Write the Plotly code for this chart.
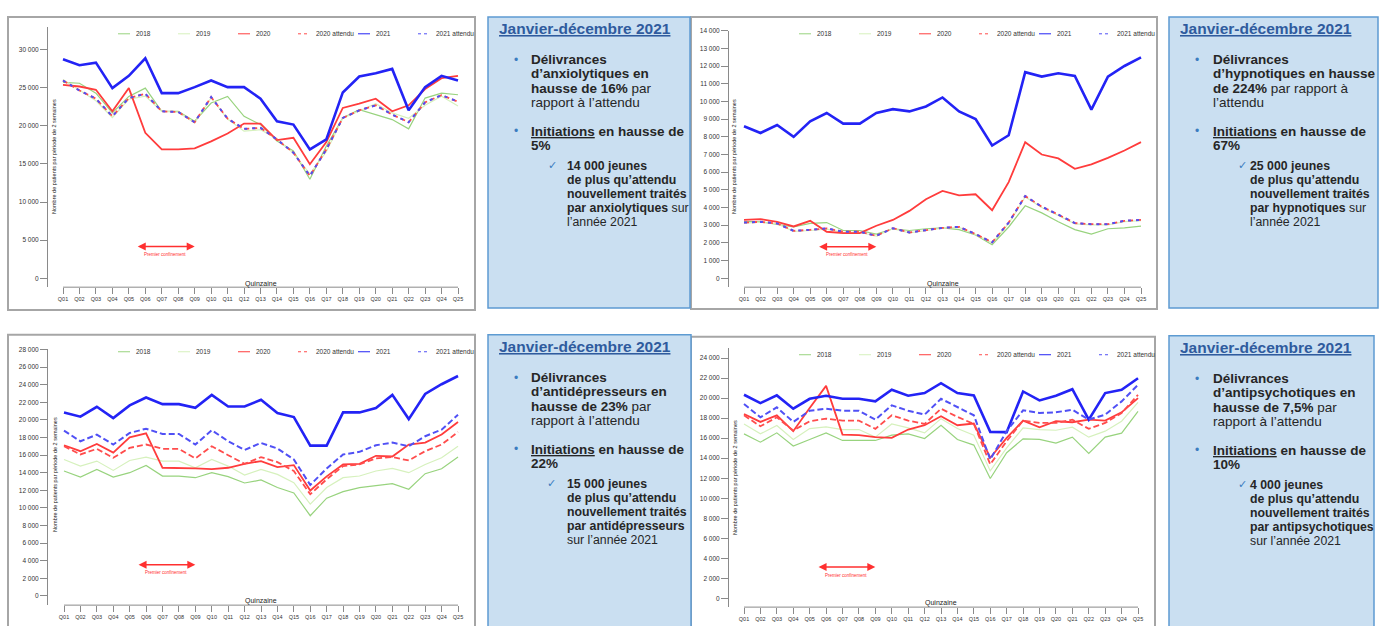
import plotly.graph_objects as go

W, H = 1389, 626

QUINZAINES = ["Q01","Q02","Q03","Q04","Q05","Q06","Q07","Q08","Q09","Q10","Q11","Q12","Q13",
              "Q14","Q15","Q16","Q17","Q18","Q19","Q20","Q21","Q22","Q23","Q24","Q25"]
XNUM = list(range(1, 26))
SERIES_NAMES = ["2018", "2019", "2020", "2020 attendu", "2021", "2021 attendu"]

# ---- Anxiolytiques (top-left)
anx_2018 = [25700,25600,24300,21700,23870,24960,21910,21910,20610,23000,23870,21260,20170,
            18000,16700,13000,17350,21040,22130,21480,20830,19610,23650,24300,24090]
anx_2019 = [26100,24700,23300,21100,23500,23900,21900,21800,20400,23700,20900,19300,19500,
            18300,16400,13700,16600,21000,22000,22900,21700,21000,22700,23900,22600]
anx_2020 = [25390,25170,24740,21910,24960,19090,16910,16910,17040,17960,19000,20300,20300,
            18130,18430,14960,17870,22350,22910,23570,21910,22700,24830,26260,26570]
anx_2020_att = [25960,24650,23570,21260,23650,24220,21910,21830,20480,23780,20960,19610,19740,
                18220,16480,13440,16910,21040,22040,22700,21480,20480,23090,24040,23170]
anx_2021 = [28740,27960,28300,24960,26570,28870,24300,24300,25090,25960,25090,25090,23570,
            20610,20170,16910,18220,24390,26480,26910,27480,22040,25090,26570,25960]
anx_2021_att = [25960,24650,23570,21260,23650,24220,21910,21830,20480,23780,20960,19610,19740,
                18220,16480,13440,16910,21040,22040,22700,21480,20480,23090,24040,23170]

# ---- Hypnotiques (top-right)
hyp_2018 = [3200,3200,3050,2900,3100,3150,2700,2700,2500,2800,2700,2800,2850,
            2750,2450,1900,2900,4100,3700,3200,2750,2500,2800,2850,2950]
hyp_2019 = [3120,3170,3080,2650,2700,2780,2600,2600,2380,2800,2570,2720,2830,
            2880,2480,2000,3100,4600,4000,3550,3080,3020,3020,3200,3260]
hyp_2020 = [3300,3340,3190,2930,3250,2630,2550,2550,2970,3300,3810,4470,4940,
            4690,4750,3850,5440,7700,7000,6780,6190,6440,6810,7230,7700]
hyp_2020_att = [3150,3190,3100,2680,2740,2820,2630,2630,2400,2830,2590,2740,2850,
                2910,2500,2030,3150,4650,4050,3600,3120,3060,3060,3250,3300]
hyp_2021 = [8600,8220,8670,8000,8880,9350,8750,8750,9350,9570,9440,9720,10230,
            9440,9010,7510,8090,11660,11410,11600,11450,9540,11410,12010,12500]
hyp_2021_att = [3150,3190,3100,2680,2740,2820,2630,2630,2400,2830,2590,2740,2850,
                2910,2500,2030,3150,4650,4050,3600,3120,3060,3060,3250,3300]

# ---- Antidepresseurs (bottom-left)
adp_2018 = [14190,13510,14370,13510,14000,14830,13620,13620,13430,14000,13550,12830,13170,
            12310,11700,9110,11100,11850,12310,12570,12760,12120,13890,14450,15770]
adp_2019 = [15500,14750,15320,14260,15390,15770,15320,15320,14560,15500,14750,13730,14370,
            13810,12870,10420,12310,13430,13620,14190,14490,14000,14940,15690,17010]
adp_2020 = [17120,16440,17270,16290,18020,18480,14560,14560,14490,14410,14560,15010,15320,
            14640,14860,11970,13580,14940,15010,15920,15840,17200,17420,18330,19760]
adp_2020_att = [17010,16070,16710,15690,16820,17200,16710,16710,15620,17010,15990,15010,15770,
                15200,14190,11550,13250,14750,14940,15620,15770,15390,16440,17200,18630]
adp_2021 = [20850,20360,21490,20210,21640,22540,21790,21790,21370,22840,21520,21520,22280,
            20770,20320,17080,17080,20850,20850,21340,22840,20090,22950,24050,24990]
adp_2021_att = [18780,17570,18330,17200,18510,19000,18400,18400,17200,18820,17570,16590,17380,
                16750,15500,12610,14490,16070,16370,17120,17420,17010,18140,18890,20580]

# ---- Antipsychotiques (bottom-right)
aps_2018 = [16430,15600,16530,15210,15870,16530,15770,15770,15770,16300,16430,15970,17290,
            15870,15310,11970,14550,15930,15870,15500,16100,14480,16100,16500,18680]
aps_2019 = [17420,16430,17260,15870,16960,17120,16860,16860,16100,17420,17030,16530,17950,
            16960,16300,12730,15040,17030,16860,16790,17090,16100,16700,17690,19570]
aps_2020 = [18410,17620,18280,16700,19010,21220,16360,16300,16100,16030,16860,17290,18180,
            17290,17460,14050,16030,17750,17090,17690,17590,17850,17750,18580,20000]
aps_2020_att = [18280,17190,18080,16760,17690,17950,17750,17750,16930,18280,17750,17420,18940,
                18120,17420,13390,15700,17750,17520,17520,17850,16930,17520,18510,20330]
aps_2021 = [20330,19500,20270,18940,19930,20230,19930,19930,19670,20830,20230,20500,21490,
            20500,20270,16630,16600,20660,19770,20230,20890,17850,20500,20830,21980]
aps_2021_att = [19410,18080,19080,17620,18740,18940,18740,18740,17850,19270,18740,18350,19930,
                19080,18280,13890,16700,18780,18510,18580,18840,17850,18350,19670,21320]

# y tick values / labels
TL_TICKS = [0, 5000, 10000, 15000, 20000, 25000, 30000]
TL_LABELS = ["0", "5 000", "10 000", "15 000", "20 000", "25 000", "30 000"]
TR_TICKS = [0,1000,2000,3000,4000,5000,6000,7000,8000,9000,10000,11000,12000,13000,14000]
TR_LABELS = ["0","1 000","2 000","3 000","4 000","5 000","6 000","7 000","8 000","9 000",
             "10 000","11 000","12 000","13 000","14 000"]
BL_TICKS = [0,2000,4000,6000,8000,10000,12000,14000,16000,18000,20000,22000,24000,26000,28000]
BL_LABELS = ["0","2 000","4 000","6 000","8 000","10 000","12 000","14 000","16 000","18 000",
             "20 000","22 000","24 000","26 000","28 000"]
BR_TICKS = [0,2000,4000,6000,8000,10000,12000,14000,16000,18000,20000,22000,24000]
BR_LABELS = ["0","2 000","4 000","6 000","8 000","10 000","12 000","14 000","16 000","18 000",
             "20 000","22 000","24 000"]

# lockdown arrow (in quinzaine units) and its level per panel
CONF_START, CONF_END, CONF_MID = 5.45, 9.0, 7.2
CONF_LEVEL = {"TL": 4170, "TR": 1780, "BL": 3540, "BR": 3140}

BOX_TITLE = "Janvier-décembre 2021"
TL_B1 = ["<b>Délivrances</b>", "<b>d’anxiolytiques en</b>", "<b>hausse de 16%</b> par", "rapport à l’attendu"]
TL_B2 = ["<b><u>Initiations</u> en hausse de</b>", "<b>5%</b>"]
TL_CK = ["<b>14 000 jeunes</b>", "<b>de plus qu’attendu</b>", "<b>nouvellement traités</b>",
         "<b>par anxiolytiques</b> sur", "l’année 2021"]
TR_B1 = ["<b>Délivrances</b>", "<b>d’hypnotiques en hausse</b>", "<b>de 224%</b> par rapport à", "l’attendu"]
TR_B2 = ["<b><u>Initiations</u> en hausse de</b>", "<b>67%</b>"]
TR_CK = ["<b>25 000 jeunes</b>", "<b>de plus qu’attendu</b>", "<b>nouvellement traités</b>",
         "<b>par hypnotiques</b> sur", "l’année 2021"]
BL_B1 = ["<b>Délivrances</b>", "<b>d’antidépresseurs en</b>", "<b>hausse de 23%</b> par", "rapport à l’attendu"]
BL_B2 = ["<b><u>Initiations</u> en hausse de</b>", "<b>22%</b>"]
BL_CK = ["<b>15 000 jeunes</b>", "<b>de plus qu’attendu</b>", "<b>nouvellement traités</b>",
         "<b>par antidépresseurs</b>", "sur l’année 2021"]
BR_B1 = ["<b>Délivrances</b>", "<b>d’antipsychotiques en</b>", "<b>hausse de 7,5%</b> par", "rapport à l’attendu"]
BR_B2 = ["<b><u>Initiations</u> en hausse de</b>", "<b>10%</b>"]
BR_CK = ["<b>4 000 jeunes</b>", "<b>de plus qu’attendu</b>", "<b>nouvellement traités</b>",
         "<b>par antipsychotiques</b>", "sur l’année 2021"]

FONT = "Liberation Sans, Arial, sans-serif"
C2018, C2019 = "#98d37e", "#d6f1bd"
C2020, C2021 = "#ff3c3c", "#2323f5"
C2020A, C2021A = "#ff4c4c", "#5050f5"
AXC = "#8a8a8a"


def px(x):
    return x / W


def py(y):
    return 1 - y / H


panels = [
    dict(key="TL", xa="x", ya="y", data=[anx_2018, anx_2019, anx_2020, anx_2020_att, anx_2021, anx_2021_att],
         xdom=(48, 470), xr=(0.0886, 25.729), ydom=(23, 285), yr=(-1174, 33000),
         ticks=TL_TICKS, labels=TL_LABELS, frame=(8, 13, 475, 308), leg_y=30, quin_y=282,
         ytitle=(54, 154), dashA=("5px,3px", "3px,5px")),
    dict(key="TR", xa="x2", ya="y2", data=[hyp_2018, hyp_2019, hyp_2020, hyp_2020_att, hyp_2021, hyp_2021_att],
         xdom=(729, 1152), xr=(0.093, 25.665), ydom=(27, 285), yr=(-506, 14000),
         ticks=TR_TICKS, labels=TR_LABELS, frame=(691, 13, 1157, 307), leg_y=30, quin_y=282,
         ytitle=(734, 154), dashA=("5px,3px", "3px,5px")),
    dict(key="BL", xa="x3", ya="y3", data=[adp_2018, adp_2019, adp_2020, adp_2020_att, adp_2021, adp_2021_att],
         xdom=(48, 470), xr=(0.0256, 25.73), ydom=(347, 605), yr=(-1050, 28080),
         ticks=BL_TICKS, labels=BL_LABELS, frame=(8, 333, 475, 632), leg_y=350, quin_y=601,
         ytitle=(55, 474), dashA=("6px,3px", "6px,3px")),
    dict(key="BR", xa="x4", ya="y4", data=[aps_2018, aps_2019, aps_2020, aps_2020_att, aps_2021, aps_2021_att],
         xdom=(729, 1150), xr=(0.0865, 25.73), ydom=(346, 607), yr=(-863, 25020),
         ticks=BR_TICKS, labels=BR_LABELS, frame=(691, 335, 1155, 632), leg_y=353, quin_y=603,
         ytitle=(735, 477), dashA=("6px,3px", "6px,3px")),
]

fig = go.Figure()
shapes, annotations = [], []
layout_axes = {}

for p in panels:
    s18, s19, s20, s20a, s21, s21a = p["data"]
    styles = [
        (s18, dict(color=C2018, width=1.2)),
        (s19, dict(color=C2019, width=1.2)),
        (s20, dict(color=C2020, width=1.8)),
        (s20a, dict(color=C2020A, width=1.8, dash=p["dashA"][0])),
        (s21, dict(color=C2021, width=2.6)),
        (s21a, dict(color=C2021A, width=2.0, dash=p["dashA"][1])),
    ]
    for name, (vals, ln) in zip(SERIES_NAMES, styles):
        fig.add_trace(go.Scatter(x=XNUM, y=vals, mode="lines", name=name, line=ln,
                                 xaxis=p["xa"], yaxis=p["ya"], showlegend=False,
                                 hoverinfo="skip"))

    xname = "xaxis" + p["xa"][1:]
    yname = "yaxis" + p["ya"][1:]
    layout_axes[xname] = dict(
        domain=[px(p["xdom"][0]), px(p["xdom"][1])], range=list(p["xr"]), anchor=p["ya"],
        tickvals=XNUM, ticktext=QUINZAINES, ticks="outside", ticklen=6, tickcolor=AXC,
        tickfont=dict(size=5.5, color="#333", family=FONT), showline=False, showgrid=False,
        zeroline=False, fixedrange=True)
    layout_axes[yname] = dict(
        domain=[py(p["ydom"][1]), py(p["ydom"][0])], range=list(p["yr"]), anchor=p["xa"],
        tickvals=p["ticks"], ticktext=p["labels"], ticks="outside", ticklen=7, tickcolor=AXC,
        tickfont=dict(size=6.5, color="#333", family=FONT), showline=True, linecolor=AXC,
        linewidth=1, showgrid=False, zeroline=False, fixedrange=True)

    # x axis line from first to last quinzaine (R style)
    shapes.append(dict(type="line", xref=p["xa"], yref=p["ya"] + " domain", x0=XNUM[0], x1=XNUM[-1],
                       y0=0, y1=0, line=dict(color=AXC, width=1)))
    # panel frame
    fx0, fy0, fx1, fy1 = p["frame"]
    shapes.append(dict(type="rect", xref="paper", yref="paper", x0=px(fx0), x1=px(fx1),
                       y0=py(fy1), y1=py(fy0), line=dict(color="#a6a6a6", width=2),
                       fillcolor="rgba(0,0,0,0)", layer="below"))

    # manual legend
    ax_x = p["xdom"][0]
    leg_cols = [C2018, C2019, C2020, C2020A, C2021, C2021A]
    leg_dash = ["solid", "solid", "solid", "dot", "solid", "dot"]
    for i, (nm, col, dsh) in enumerate(zip(SERIES_NAMES, leg_cols, leg_dash)):
        lx = ax_x + 70 + 60 * i
        shapes.append(dict(type="line", xref="paper", yref="paper", x0=px(lx), x1=px(lx + 12),
                           y0=py(p["leg_y"]), y1=py(p["leg_y"]), line=dict(color=col, width=1, dash=dsh)))
        annotations.append(dict(xref="paper", yref="paper", x=px(lx + 16), y=py(p["leg_y"]),
                                text=nm, showarrow=False, xanchor="left", yanchor="middle",
                                font=dict(size=6.5, color="#333", family=FONT)))

    # Quinzaine label (centred over Q13)
    annotations.append(dict(xref=p["xa"], yref="paper", x=13, y=py(p["quin_y"]), text="Quinzaine",
                            showarrow=False, xanchor="center", yanchor="middle",
                            font=dict(size=7, color="#222", family=FONT)))
    # y-axis title
    annotations.append(dict(xref="paper", yref="paper", x=px(p["ytitle"][0]), y=py(p["ytitle"][1]),
                            text="Nombre de patients par période de 2 semaines", textangle=-90,
                            showarrow=False, xanchor="center", yanchor="middle",
                            font=dict(size=5.5, color="#222", family=FONT)))
    # lockdown arrow
    lvl = CONF_LEVEL[p["key"]]
    annotations.append(dict(xref=p["xa"], yref=p["ya"], x=CONF_END, y=lvl, ax=CONF_START, ay=lvl,
                            axref=p["xa"], ayref=p["ya"], text="", showarrow=True,
                            arrowhead=2, arrowside="end+start", arrowsize=1.0, arrowwidth=1.6,
                            arrowcolor="#ff3030", startarrowhead=2, startarrowsize=1.0))
    annotations.append(dict(xref=p["xa"], yref=p["ya"], x=CONF_MID, y=lvl, yshift=-8,
                            text="Premier confinement", showarrow=False, xanchor="center",
                            yanchor="middle", font=dict(size=4.5, color="#ff3030", family=FONT)))

# ---- text boxes
boxes = [
    dict(rect=(488, 13, 690, 306), b1=TL_B1, b2=TL_B2, ck=TL_CK, tx=41, ckx=64, cktx=77),
    dict(rect=(1169, 13, 1378, 306), b1=TR_B1, b2=TR_B2, ck=TR_CK, tx=42, ckx=73, cktx=79),
    dict(rect=(488, 333, 691, 632), b1=BL_B1, b2=BL_B2, ck=BL_CK, tx=41, ckx=63, cktx=77),
    dict(rect=(1169, 334, 1374, 632), b1=BR_B1, b2=BR_B2, ck=BR_CK, tx=42, ckx=73, cktx=79),
]
TITLE_C = "#2f5b9e"
BUL_C = "#3a7cc0"
TXT_C = "#262626"
for b in boxes:
    x0, y0, x1, y1 = b["rect"]
    shapes.append(dict(type="rect", xref="paper", yref="paper", x0=px(x0), x1=px(x1), y0=py(y1), y1=py(y0),
                       line=dict(color="#5d9bd2", width=1.5), fillcolor="#cadff1", layer="below"))
    annotations.append(dict(xref="paper", yref="paper", x=px(x0 + 9), y=py(y0 + 12),
                            text="<b><u>" + BOX_TITLE + "</u></b>", showarrow=False,
                            xanchor="left", yanchor="middle",
                            font=dict(size=15.5, color=TITLE_C, family=FONT)))
    for by, lines in ((y0 + 43, b["b1"]), (y0 + 115, b["b2"])):
        annotations.append(dict(xref="paper", yref="paper", x=px(x0 + 28), y=py(by), text="•",
                                showarrow=False, xanchor="center", yanchor="middle",
                                font=dict(size=12, color=BUL_C, family=FONT)))
        for i, t in enumerate(lines):
            annotations.append(dict(xref="paper", yref="paper", x=px(x0 + b["tx"]), y=py(by + 14.3 * i),
                                    text=t, showarrow=False, xanchor="left", yanchor="middle",
                                    font=dict(size=13.5, color=TXT_C, family=FONT)))
    cy = y0 + 150
    annotations.append(dict(xref="paper", yref="paper", x=px(x0 + b["ckx"]), y=py(cy), text="✓",
                            showarrow=False, xanchor="center", yanchor="middle",
                            font=dict(size=11, color=BUL_C, family="DejaVu Sans")))
    for i, t in enumerate(b["ck"]):
        annotations.append(dict(xref="paper", yref="paper", x=px(x0 + b["cktx"]), y=py(cy + 14 * i),
                                text=t, showarrow=False, xanchor="left", yanchor="middle",
                                font=dict(size=12.3, color=TXT_C, family=FONT)))

fig.update_layout(
    width=W, height=H, margin=dict(l=0, r=0, t=0, b=0, pad=0),
    paper_bgcolor="white", plot_bgcolor="rgba(0,0,0,0)",
    font=dict(family=FONT, color="#222"),
    showlegend=False, shapes=shapes, annotations=annotations, **layout_axes,
)

fig.write_html("out.html", config={"displayModeBar": False},
               post_script="document.body.style.margin='0';document.body.style.overflow='hidden';")
